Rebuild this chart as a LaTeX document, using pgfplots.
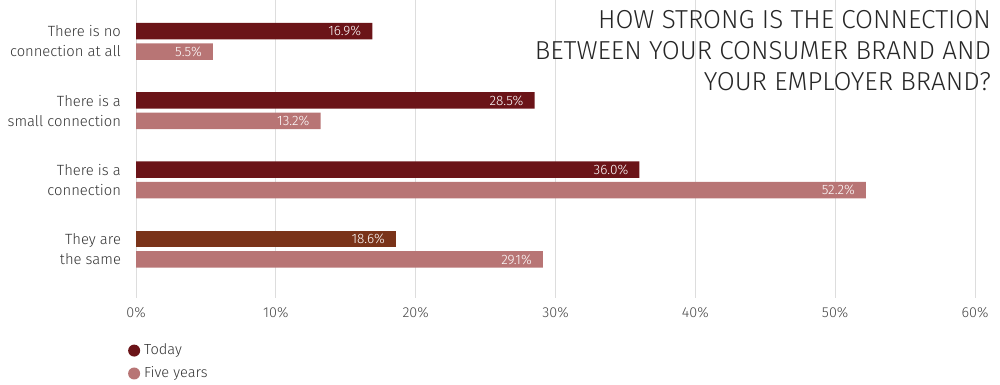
\documentclass[border=0pt]{standalone}
\usepackage{pgfplots}
\pgfplotsset{compat=1.18}
\usepackage{fontspec}
\setmainfont{Fira Sans}[UprightFont=* Light]
\definecolor{today}{HTML}{6B1418}
\definecolor{todaybrown}{HTML}{7A3319}
\definecolor{five}{HTML}{B87575}
\definecolor{gridc}{HTML}{DDDDDD}
\definecolor{txt}{HTML}{333333}
\begin{document}
\begin{tikzpicture}
\useasboundingbox (-68pt,-43.5pt) rectangle (432pt,149pt);
\begin{axis}[
  at={(0,0)}, anchor=south west,
  scale only axis, width=419.5pt, height=149pt,
  xmin=0, xmax=60, ymin=-0.596, ymax=3.704, y dir=reverse,
  xbar, bar width=8.25pt,
  axis line style={draw=none},
  major tick length=0pt,
  xmajorgrids, grid style={gridc, line width=0.5pt},
  xtick={0,10,...,60},
  xticklabel={\pgfmathprintnumber{\tick}\%},
  /pgf/number format/assume math mode=true,
  xticklabel style={font=\fontsize{7.2pt}{8pt}\selectfont, text=txt!90, yshift=-1pt},
  ytick={0,1,2,3},
  yticklabels={There is no\\connection at all, There is a\\small connection, There is a\\connection, They are\\the same},
  yticklabel style={align=right, font=\fontsize{7.4pt}{10pt}\selectfont, text=txt, xshift=-4pt},
  nodes near coords={\pgfmathprintnumber[fixed,precision=1,fixed zerofill]{\pgfplotspointmeta}\%},
  point meta=x,
  every node near coord/.append style={anchor=east, text=white, font=\fontsize{6.8pt}{7pt}\selectfont, xshift=-2pt},
  legend style={at={(axis description cs:-0.017,-0.125)}, anchor=north west, draw=none, fill=none, font=\fontsize{7.3pt}{8pt}\selectfont, text=txt, row sep=0.5pt},
  legend cell align=left,
  legend image code/.code={\fill[#1,draw=none] (3pt,0pt) circle (3pt);},
]
\addplot[fill=today, draw=none, bar shift=5.1pt] coordinates {(16.9,0) (28.5,1) (36.0,2)};
\addlegendentry{Today}
\addplot[fill=five, draw=none, bar shift=-5.1pt] coordinates {(5.5,0) (13.2,1) (52.2,2) (29.1,3)};
\addlegendentry{Five years}
\addplot[fill=todaybrown, draw=none, bar shift=5.1pt, forget plot] coordinates {(18.6,3)};
\end{axis}
\node[anchor=north east, align=right, font=\fontsize{13pt}{15.5pt}\selectfont, text=black!85] at (431pt,147.5pt) {HOW STRONG IS THE CONNECTION\\BETWEEN YOUR CONSUMER BRAND AND\\YOUR EMPLOYER BRAND?};
\end{tikzpicture}
\end{document}
